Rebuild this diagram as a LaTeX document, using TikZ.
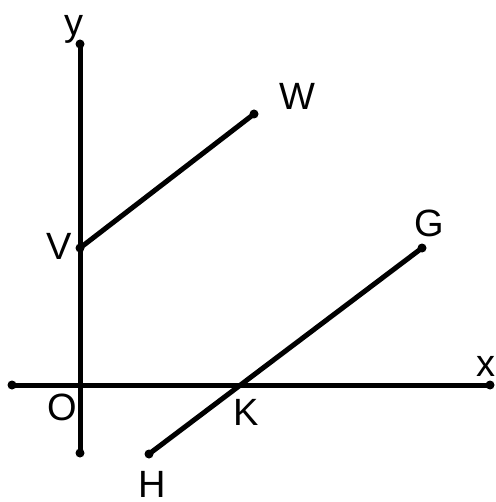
\documentclass[tikz,border=0pt]{standalone}
\usepackage{fontspec}
\setmainfont{Liberation Sans}
\begin{document}
\begin{tikzpicture}[x=1pt,y=-1pt,
  dot/.style={circle,fill=black,inner sep=0pt,minimum size=9pt},
  seg/.style={line width=5pt,line cap=round},
  lbl/.style={inner sep=0pt,font=\fontsize{38}{38}\selectfont}]
\useasboundingbox (0,0) rectangle (495,502);
\node[dot] (Yt) at (80,44) {};
\node[dot] (Yb) at (80,453) {};
\node[dot] (Xl) at (12,385) {};
\node[dot] (Xr) at (490,385) {};
\node[dot] (V) at (80,248) {};
\node[dot] (W) at (254,114) {};
\node[dot] (G) at (422,248) {};
\node[dot] (H) at (149,454) {};
\draw[seg] (Yt.center) -- (Yb.center);
\draw[seg] (Xl.center) -- (Xr.center);
\draw[seg] (V.center) -- (W.center);
\draw[seg] (H.center) -- (G.center);
\node[lbl] (ly) at (74,29) {y};
\node[lbl] (lO) at (62,407) {O};
\node[lbl] (lW) at (297,96) {W};
\node[lbl] (lV) at (59,246) {V};
\node[lbl] (lG) at (429,223) {G};
\node[lbl] (lx) at (486,366) {x};
\node[lbl] (lK) at (246,412) {K};
\node[lbl] (lH) at (152,484) {H};
\end{tikzpicture}
\end{document}
